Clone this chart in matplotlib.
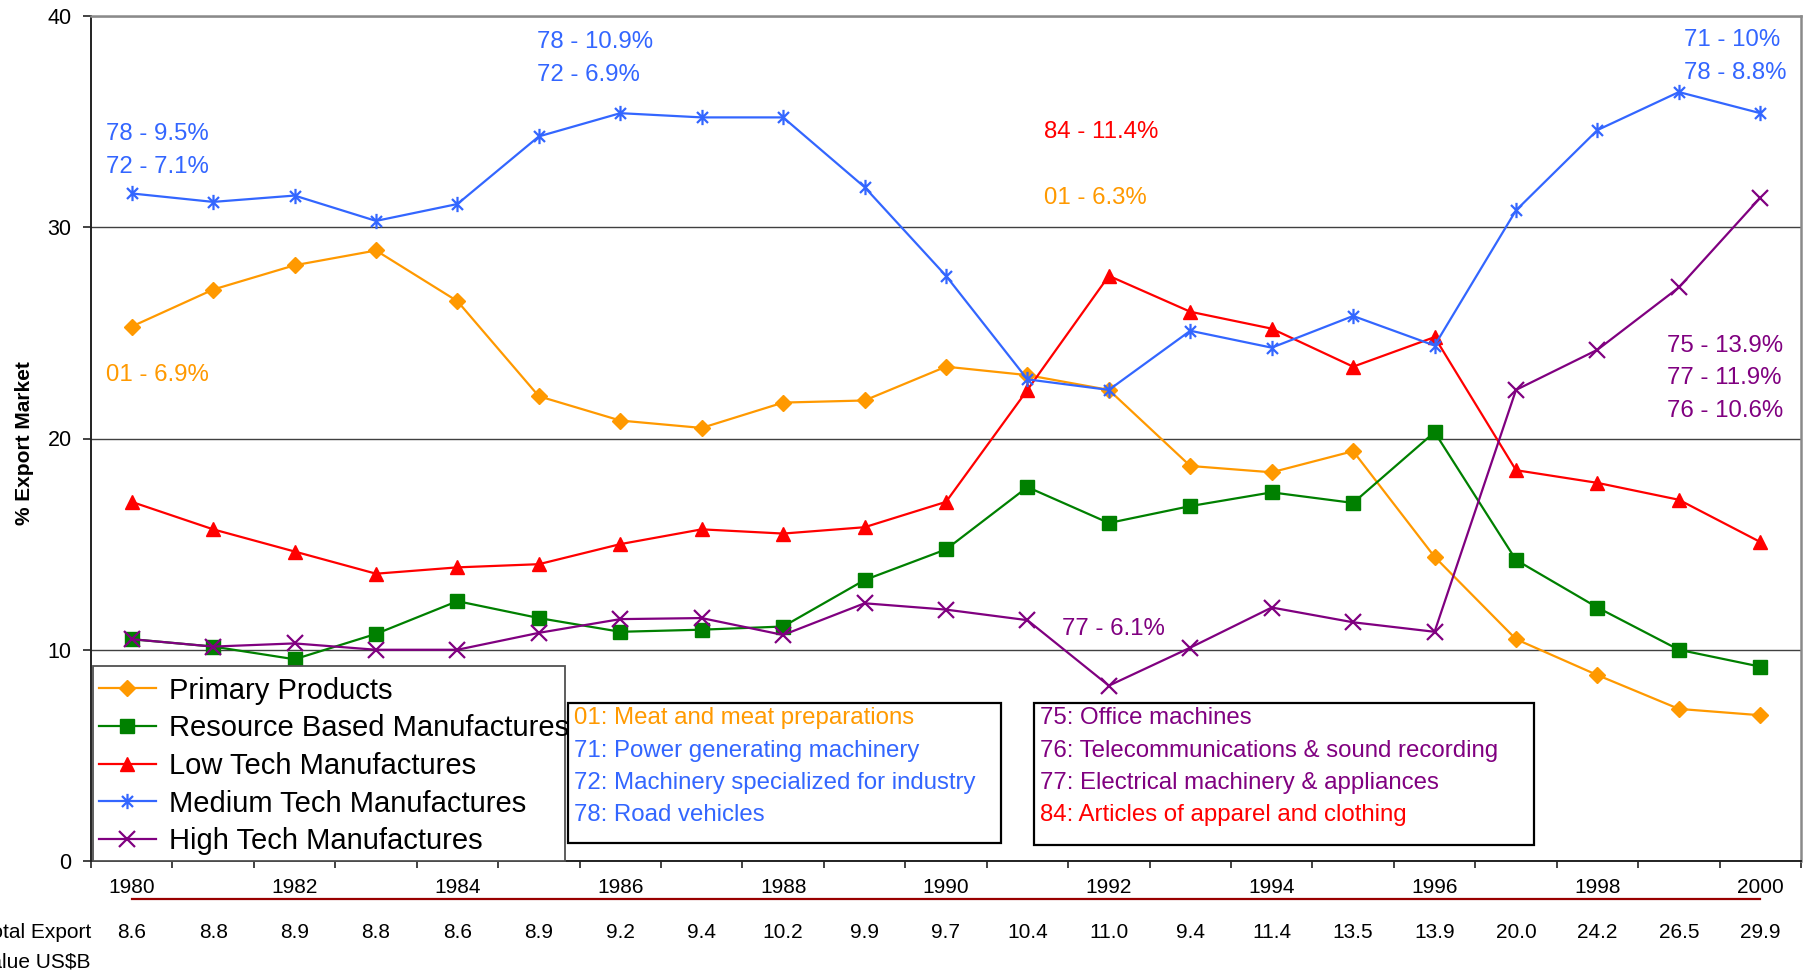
import matplotlib
matplotlib.use("Agg")
import matplotlib.pyplot as plt
from matplotlib.path import Path
from matplotlib.patches import Rectangle
from matplotlib.lines import Line2D
import matplotlib.transforms as mtransforms

plt.rcParams['font.family'] = ['Liberation Sans', 'DejaVu Sans']

# ---- data -------------------------------------------------------------
years = list(range(1980, 2001))
year_labels = [str(y) if y % 2 == 0 else "" for y in years]

primary = [25.3, 27.05, 28.2, 28.9, 26.5, 22.0, 20.85, 20.5, 21.7, 21.8,
           23.4, 23.0, 22.3, 18.7, 18.4, 19.4, 14.4, 10.5, 8.8, 7.2, 6.9]
resource = [10.5, 10.15, 9.55, 10.75, 12.3, 11.5, 10.85, 10.95, 11.1, 13.3,
            14.75, 17.7, 16.0, 16.8, 17.45, 16.95, 20.3, 14.25, 12.0, 10.0, 9.2]
low_tech = [17.0, 15.7, 14.65, 13.6, 13.9, 14.05, 15.0, 15.7, 15.5, 15.8,
            17.0, 22.3, 27.7, 26.0, 25.2, 23.4, 24.8, 18.5, 17.9, 17.1, 15.1]
medium_tech = [31.6, 31.2, 31.5, 30.3, 31.1, 34.3, 35.4, 35.2, 35.2, 31.9,
               27.7, 22.8, 22.3, 25.1, 24.3, 25.8, 24.4, 30.8, 34.6, 36.4, 35.4]
high_tech = [10.5, 10.15, 10.3, 10.0, 10.0, 10.8, 11.45, 11.5, 10.7, 12.2,
             11.9, 11.4, 8.3, 10.1, 12.0, 11.3, 10.85, 22.3, 24.2, 27.15, 31.4]

total_export = ["8.6", "8.8", "8.9", "8.8", "8.6", "8.9", "9.2", "9.4", "10.2", "9.9",
                "9.7", "10.4", "11.0", "9.4", "11.4", "13.5", "13.9", "20.0", "24.2",
                "26.5", "29.9"]

series_names = ["Primary Products", "Resource Based Manufactures",
                "Low Tech Manufactures", "Medium Tech Manufactures",
                "High Tech Manufactures"]

ORANGE = "#FF9900"
GREEN = "#008000"
RED = "#FF0000"
BLUE = "#3366FF"
PURPLE = "#800080"

# (text, x index, y value, colour) for the product-code notes
notes = [
    ("78 - 9.5%", -0.32, 34.4, BLUE),
    ("72 - 7.1%", -0.32, 32.85, BLUE),
    ("78 - 10.9%", 4.98, 38.75, BLUE),
    ("72 - 6.9%", 4.98, 37.2, BLUE),
    ("84 - 11.4%", 11.2, 34.5, RED),
    ("01 - 6.3%", 11.2, 31.4, ORANGE),
    ("71 - 10%", 19.06, 38.85, BLUE),
    ("78 - 8.8%", 19.06, 37.3, BLUE),
    ("01 - 6.9%", -0.32, 23.0, ORANGE),
    ("77 - 6.1%", 11.42, 11.0, PURPLE),
    ("75 - 13.9%", 18.86, 24.4, PURPLE),
    ("77 - 11.9%", 18.86, 22.85, PURPLE),
    ("76 - 10.6%", 18.86, 21.3, PURPLE),
]

key_left = [("01: Meat and meat preparations", ORANGE),
            ("71: Power generating machinery", BLUE),
            ("72: Machinery specialized for industry", BLUE),
            ("78: Road vehicles", BLUE)]
key_right = [("75: Office machines", PURPLE),
             ("76: Telecommunications & sound recording", PURPLE),
             ("77: Electrical machinery & appliances", PURPLE),
             ("84: Articles of apparel and clothing", RED)]

# ---- figure -------------------------------------------------------------
W, H = 1808, 974
fig = plt.figure(figsize=(W / 100, H / 100), dpi=100)
fig.patch.set_facecolor("white")


def fx(px):
    return px / W


def fy(py):
    return 1 - py / H


ax = fig.add_axes([fx(91), fy(861), fx(1801) - fx(91), fy(16) - fy(861)])
x = list(range(len(years)))

asterisk = Path([(0, -1), (0, 1), (-0.72, -0.72), (0.72, 0.72), (-0.72, 0.72), (0.72, -0.72)],
                [Path.MOVETO, Path.LINETO] * 3)

ax.plot(x, primary, color=ORANGE, lw=1.6, marker="D", ms=8.5, mec=ORANGE, mfc=ORANGE,
        label=series_names[0], zorder=3)
ax.plot(x, resource, color=GREEN, lw=1.6, marker="s", ms=9.5, mec=GREEN, mfc=GREEN,
        label=series_names[1], zorder=3)
ax.plot(x, low_tech, color=RED, lw=1.6, marker="^", ms=10, mec=RED, mfc=RED,
        label=series_names[2], zorder=3)
ax.plot(x, medium_tech, color=BLUE, lw=1.6, marker=asterisk, ms=11, mew=1.6, mec=BLUE,
        label=series_names[3], zorder=3)
ax.plot(x, high_tech, color=PURPLE, lw=1.6, marker="x", ms=12, mew=1.6, mec=PURPLE,
        label=series_names[4], zorder=3)

ax.set_xlim(-0.5, len(years) - 0.5)
ax.set_ylim(0, 40)
ax.set_yticks([0, 10, 20, 30, 40])
ax.grid(axis="y", color="#404040", lw=1.0, zorder=1)
ax.set_axisbelow(True)

ax.set_xticks(x)
ax.set_xticklabels(year_labels, fontsize=15)
ax.set_xticks([i - 0.5 for i in range(len(years) + 1)], minor=True)
ax.tick_params(axis="x", which="major", length=0, pad=12)
ax.tick_params(axis="x", which="minor", length=5, width=1.2, color="#222222", direction="out")
ax.tick_params(axis="y", which="major", length=6, width=1.2, color="#222222",
               labelsize=15.5, pad=8)

for side in ("top", "right"):
    ax.spines[side].set_color("#8a8a8a")
    ax.spines[side].set_linewidth(1.8)
for side in ("left", "bottom"):
    ax.spines[side].set_color("#222222")
    ax.spines[side].set_linewidth(1.4)

fig.text(fx(25), fy(443), "% Export Market", rotation=90, fontsize=15, fontweight="bold",
         ha="center", va="center")

# product-code notes on the plot area
for txt, nx, ny, col in notes:
    ax.text(nx, ny, txt, color=col, fontsize=17.3, ha="left", va="center", zorder=4)

# series legend: fixed-size frame, entries may run over its right edge
legend_frame = Rectangle((fx(93), fy(861)), fx(565) - fx(93), fy(666) - fy(861),
                         transform=fig.transFigure, facecolor="white", edgecolor="#505050",
                         lw=1.3, zorder=4.5, clip_on=False)
ax.add_patch(legend_frame)
leg = ax.legend(loc="lower left", bbox_to_anchor=(fx(93), fy(861)),
                bbox_transform=fig.transFigure, fontsize=21, frameon=False,
                borderpad=0.2, borderaxespad=0,
                handlelength=1.95, handletextpad=0.45, labelspacing=0.33)
leg.set_zorder(5)

# code key boxes
for (x0, y0, x1, y1), entries in (((568, 703, 1001, 843), key_left),
                                   ((1034, 703, 1534, 845), key_right)):
    rect = Rectangle((fx(x0), fy(y1)), fx(x1) - fx(x0), fy(y0) - fy(y1),
                     transform=fig.transFigure, facecolor="white", edgecolor="black",
                     lw=1.6, zorder=6)
    fig.patches.append(rect)
    for k, (txt, col) in enumerate(entries):
        fig.text(fx(x0 + 6), fy(718.3 + 32.3 * k), txt, color=col, fontsize=17.3,
                 ha="left", va="center", zorder=7)

# total export value row
blend = mtransforms.blended_transform_factory(ax.transData, fig.transFigure)
ax.add_line(Line2D([x[0], x[-1]], [fy(899), fy(899)], transform=blend, color="#990000",
                   lw=1.6, clip_on=False))
for xi, val in zip(x, total_export):
    ax.text(xi, fy(933), val, transform=blend, fontsize=15, ha="center", va="center")
fig.text(fx(91), fy(933), "Total Export", fontsize=15, ha="right", va="center")
fig.text(fx(91), fy(962), "Value US$B", fontsize=15, ha="right", va="center")

fig.savefig("out.png", dpi=100, facecolor="white")
